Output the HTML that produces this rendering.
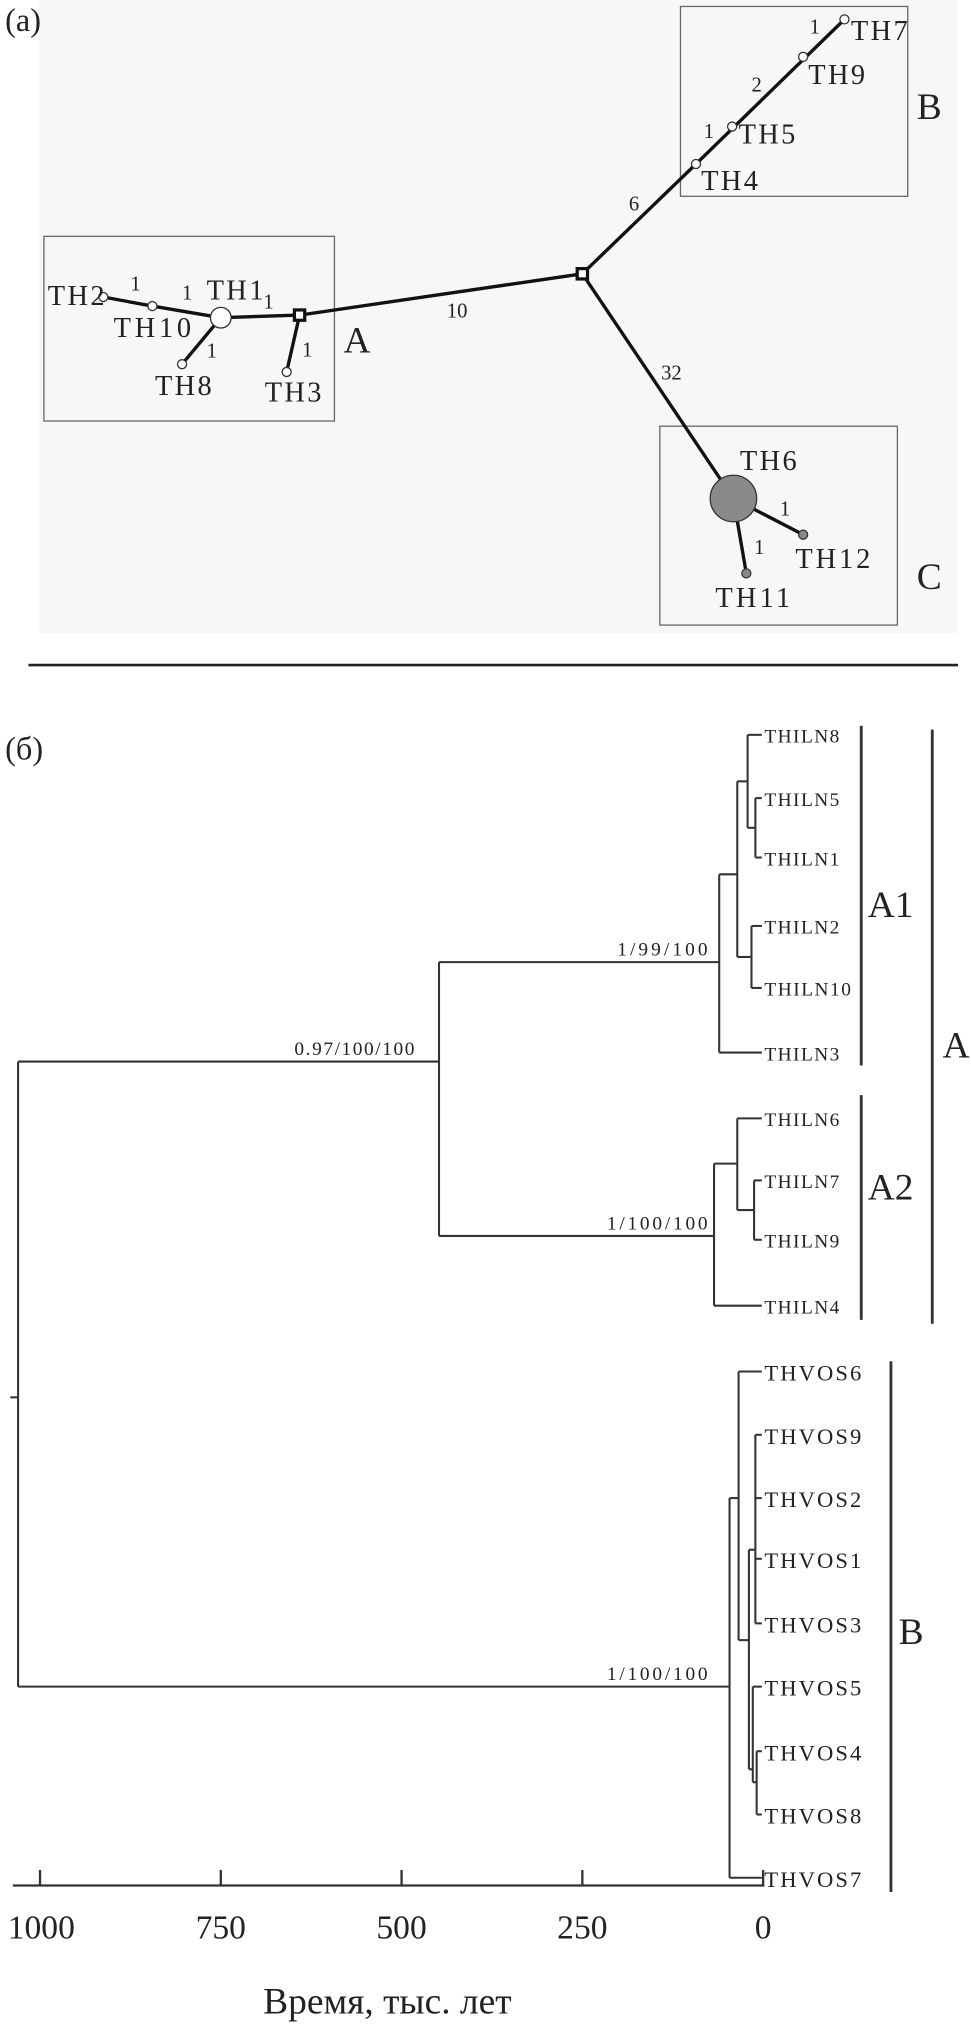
<!DOCTYPE html>
<html><head><meta charset="utf-8"><style>
html,body{margin:0;padding:0;background:#fff;}
svg{display:block;}
text{font-family:"Liberation Serif",serif;fill:#222;}
</style></head><body>
<svg width="971" height="2025" viewBox="0 0 752 1568" preserveAspectRatio="none" xmlns="http://www.w3.org/2000/svg">
<rect x="0" y="0" width="752" height="1568" fill="#fff"/>
<rect x="30" y="0" width="712" height="490" fill="#f7f7f7"/>
<text x="4" y="24" font-size="25">(a)</text>
<g fill="none" stroke="#666" stroke-width="1">
<rect x="34" y="183" width="225" height="143"/>
<rect x="527" y="5" width="176" height="147"/>
<rect x="511" y="330" width="184" height="154"/>
</g>
<g stroke="#111" stroke-width="2.6" fill="none">
<line x1="232" y1="244" x2="451" y2="212"/>
<line x1="451" y1="212" x2="539" y2="127"/>
<line x1="539" y1="127" x2="654" y2="15"/>
<line x1="451" y1="212" x2="568" y2="386"/>
<line x1="232" y1="244" x2="171" y2="246"/>
<line x1="232" y1="244" x2="222" y2="288"/>
<line x1="171" y1="246" x2="118" y2="237"/>
<line x1="118" y1="237" x2="80" y2="230"/>
<line x1="171" y1="246" x2="141" y2="282"/>
<line x1="568" y1="386" x2="622" y2="414"/>
<line x1="568" y1="386" x2="578" y2="444"/>
</g>
<g stroke="#333" stroke-width="1" fill="#fff">
<circle cx="80" cy="230" r="3.5"/>
<circle cx="118" cy="237" r="3.5"/>
<circle cx="141" cy="282" r="3.5"/>
<circle cx="222" cy="288" r="3.5"/>
<circle cx="539" cy="127" r="3.5"/>
<circle cx="567" cy="98" r="3.5"/>
<circle cx="622" cy="44" r="3.5"/>
<circle cx="654" cy="15" r="3.5"/>
<circle cx="171" cy="246" r="8"/>
<circle cx="568" cy="386" r="18" fill="#8a8a8a"/>
<circle cx="622" cy="414" r="3.5" fill="#8a8a8a"/>
<circle cx="578" cy="444" r="3.5" fill="#8a8a8a"/>
</g>
<rect x="228" y="240" width="8" height="8" fill="#fff" stroke="#111" stroke-width="2.5"/>
<rect x="447" y="208" width="8" height="8" fill="#fff" stroke="#111" stroke-width="2.5"/>
<g font-size="22">
<text x="37" y="236" textLength="44">TH2</text>
<text x="88" y="261" textLength="60">TH10</text>
<text x="160" y="232" textLength="44">TH1</text>
<text x="120" y="306" textLength="44">TH8</text>
<text x="205" y="311" textLength="44">TH3</text>
<text x="543" y="147" textLength="44">TH4</text>
<text x="572" y="111" textLength="44">TH5</text>
<text x="626" y="65" textLength="44">TH9</text>
<text x="659" y="31" textLength="44">TH7</text>
<text x="573" y="364" textLength="44">TH6</text>
<text x="616" y="440" textLength="58">TH12</text>
<text x="554" y="470" textLength="58">TH11</text>
</g>
<g font-size="16">
<text x="101" y="225">1</text>
<text x="141" y="232">1</text>
<text x="204" y="239">1</text>
<text x="160" y="277">1</text>
<text x="234" y="276">1</text>
<text x="346" y="246">10</text>
<text x="487" y="163">6</text>
<text x="545" y="107">1</text>
<text x="582" y="71">2</text>
<text x="627" y="26">1</text>
<text x="512" y="294">32</text>
<text x="604" y="399">1</text>
<text x="584" y="429">1</text>
</g>
<g font-size="29">
<text x="266" y="273">A</text>
<text x="710" y="92">B</text>
<text x="710" y="456">C</text>
</g>
<line x1="22" y1="515" x2="742" y2="515" stroke="#222" stroke-width="2"/>

<text x="4" y="588" font-size="25">(б)</text>
<g stroke="#333" stroke-width="1.6" fill="none">
<line x1="8" y1="1082" x2="14" y2="1082"/>
<line x1="14" y1="822" x2="14" y2="1306"/>
<line x1="14" y1="822" x2="340" y2="822"/>
<line x1="14" y1="1306" x2="565" y2="1306"/>
<line x1="340" y1="745" x2="340" y2="957"/>
<line x1="340" y1="745" x2="557" y2="745"/>
<line x1="340" y1="957" x2="553" y2="957"/>
<line x1="557" y1="677" x2="557" y2="815"/>
<line x1="557" y1="815" x2="590" y2="815"/>
<line x1="557" y1="677" x2="571" y2="677"/>
<line x1="571" y1="605" x2="571" y2="741"/>
<line x1="571" y1="605" x2="579" y2="605"/>
<line x1="579" y1="569" x2="579" y2="641"/>
<line x1="579" y1="569" x2="590" y2="569"/>
<line x1="579" y1="641" x2="585" y2="641"/>
<line x1="585" y1="618" x2="585" y2="664"/>
<line x1="585" y1="618" x2="590" y2="618"/>
<line x1="585" y1="664" x2="590" y2="664"/>
<line x1="571" y1="741" x2="582" y2="741"/>
<line x1="582" y1="717" x2="582" y2="765"/>
<line x1="582" y1="717" x2="590" y2="717"/>
<line x1="582" y1="765" x2="590" y2="765"/>
<line x1="553" y1="901" x2="553" y2="1011"/>
<line x1="553" y1="1011" x2="590" y2="1011"/>
<line x1="553" y1="901" x2="571" y2="901"/>
<line x1="571" y1="866" x2="571" y2="937"/>
<line x1="571" y1="866" x2="590" y2="866"/>
<line x1="571" y1="937" x2="584" y2="937"/>
<line x1="584" y1="914" x2="584" y2="960"/>
<line x1="584" y1="914" x2="590" y2="914"/>
<line x1="584" y1="960" x2="590" y2="960"/>
<line x1="565" y1="1160" x2="565" y2="1454"/>
<line x1="565" y1="1454" x2="590" y2="1454"/>
<line x1="565" y1="1160" x2="572" y2="1160"/>
<line x1="572" y1="1062" x2="572" y2="1270"/>
<line x1="572" y1="1062" x2="590" y2="1062"/>
<line x1="572" y1="1270" x2="580" y2="1270"/>
<line x1="580" y1="1200" x2="580" y2="1370"/>
<line x1="580" y1="1200" x2="585" y2="1200"/>
<line x1="585" y1="1111" x2="585" y2="1257"/>
<line x1="585" y1="1111" x2="590" y2="1111"/>
<line x1="585" y1="1160" x2="590" y2="1160"/>
<line x1="585" y1="1207" x2="590" y2="1207"/>
<line x1="585" y1="1257" x2="590" y2="1257"/>
<line x1="580" y1="1370" x2="583" y2="1370"/>
<line x1="583" y1="1306" x2="583" y2="1380"/>
<line x1="583" y1="1306" x2="590" y2="1306"/>
<line x1="583" y1="1380" x2="586" y2="1380"/>
<line x1="586" y1="1356" x2="586" y2="1405"/>
<line x1="586" y1="1356" x2="590" y2="1356"/>
<line x1="586" y1="1405" x2="590" y2="1405"/>
</g>
<g font-size="15">
<text x="592" y="575" textLength="58">THILN8</text>
<text x="592" y="624" textLength="58">THILN5</text>
<text x="592" y="670" textLength="58">THILN1</text>
<text x="592" y="723" textLength="58">THILN2</text>
<text x="592" y="771" textLength="67">THILN10</text>
<text x="592" y="821" textLength="58">THILN3</text>
<text x="592" y="872" textLength="58">THILN6</text>
<text x="592" y="920" textLength="58">THILN7</text>
<text x="592" y="966" textLength="58">THILN9</text>
<text x="592" y="1017" textLength="58">THILN4</text>
</g>
<g font-size="17.5">
<text x="592" y="1069" textLength="75">THVOS6</text>
<text x="592" y="1118" textLength="75">THVOS9</text>
<text x="592" y="1167" textLength="75">THVOS2</text>
<text x="592" y="1214" textLength="75">THVOS1</text>
<text x="592" y="1264" textLength="75">THVOS3</text>
<text x="592" y="1313" textLength="75">THVOS5</text>
<text x="592" y="1363" textLength="75">THVOS4</text>
<text x="592" y="1412" textLength="75">THVOS8</text>
<text x="592" y="1461" textLength="75">THVOS7</text>
</g>
<g font-size="15">
<text x="228" y="817" textLength="93">0.97/100/100</text>
<text x="478" y="740" textLength="70">1/99/100</text>
<text x="470" y="952" textLength="78">1/100/100</text>
<text x="470" y="1301" textLength="78">1/100/100</text>
</g>
<g stroke="#333" stroke-width="2.2">
<line x1="667" y1="562" x2="667" y2="825"/>
<line x1="667" y1="848" x2="667" y2="1022"/>
<line x1="722" y1="565" x2="722" y2="1025"/>
<line x1="690" y1="1054" x2="690" y2="1465"/>
</g>
<g font-size="29">
<text x="672" y="710">A1</text>
<text x="672" y="929">A2</text>
<text x="730" y="819">A</text>
<text x="696" y="1273">B</text>
</g>
<g stroke="#333" stroke-width="1.8">
<line x1="10" y1="1460" x2="592" y2="1460"/>
<line x1="31" y1="1448" x2="31" y2="1460"/>
<line x1="171" y1="1448" x2="171" y2="1460"/>
<line x1="311" y1="1448" x2="311" y2="1460"/>
<line x1="451" y1="1448" x2="451" y2="1460"/>
<line x1="591" y1="1448" x2="591" y2="1460"/>
</g>
<g font-size="26" text-anchor="middle">
<text x="32" y="1501">1000</text>
<text x="171" y="1501">750</text>
<text x="311" y="1501">500</text>
<text x="451" y="1501">250</text>
<text x="591" y="1501">0</text>
</g>
<text x="300" y="1559" font-size="29" text-anchor="middle">Время, тыс. лет</text>
</svg>
</body></html>
